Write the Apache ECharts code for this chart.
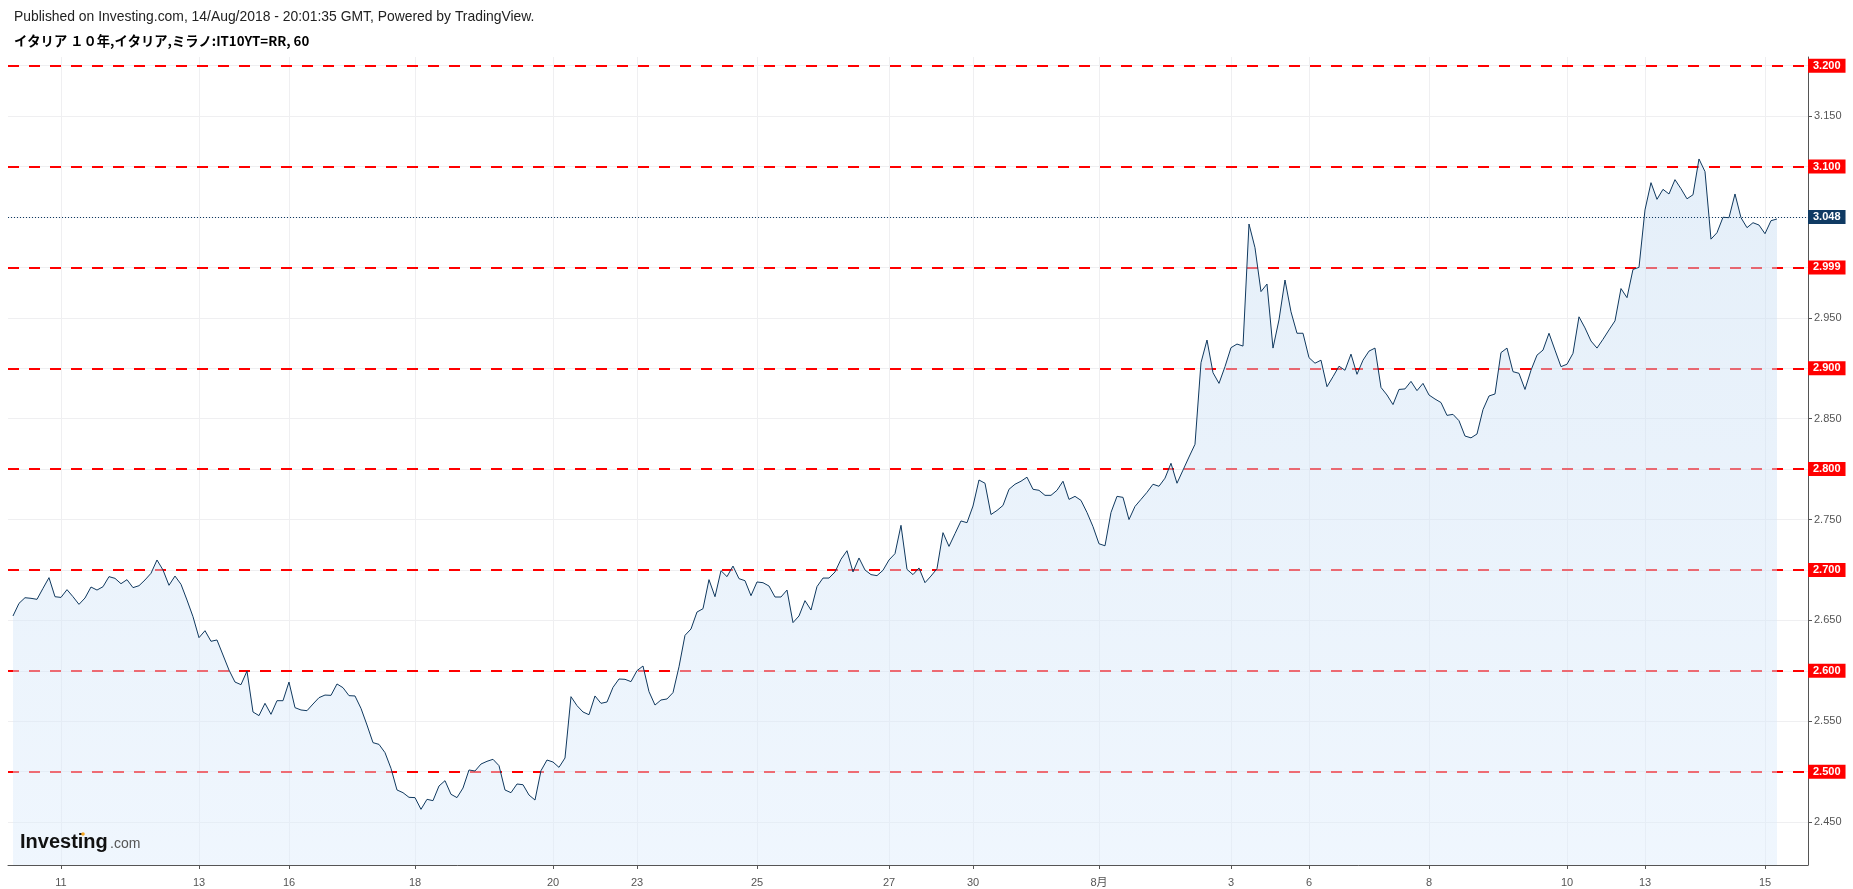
<!DOCTYPE html>
<html><head><meta charset="utf-8">
<script src="https://cdn.jsdelivr.net/npm/echarts@6/dist/echarts.min.js"></script>
<style>html,body{margin:0;padding:0;background:#fff}#c{width:1853px;height:889px}</style>
</head><body><div id="c"></div>
<script>
// Hourly yield values (IT10YT=RR, 60 min)
const values = [
2.6544,2.6669,2.6725,2.6719,2.6709,2.6818,2.6924,2.6735,2.6728,2.6805,
2.6735,2.6659,2.6722,2.6831,2.6801,2.6834,2.6934,2.6917,2.6864,2.6904,
2.6825,2.6844,2.6901,2.6967,2.7099,2.7000,2.6848,2.6940,2.6858,2.6702,
2.6537,2.6329,2.6398,2.6293,2.6306,2.6157,2.6008,2.5889,2.5863,2.5998,
2.5592,2.5556,2.5678,2.5569,2.5704,2.5704,2.5889,2.5635,2.5612,2.5605,
2.5671,2.5734,2.5760,2.5757,2.5870,2.5833,2.5754,2.5751,2.5628,2.5463,
2.5288,2.5271,2.5189,2.5033,2.4819,2.4792,2.4746,2.4743,2.4627,2.4726,
2.4713,2.4858,2.4911,2.4776,2.4743,2.4838,2.5017,2.5007,2.5076,2.5103,
2.5123,2.5060,2.4819,2.4792,2.4878,2.4871,2.4769,2.4719,2.5010,2.5116,
2.5096,2.5043,2.5136,2.5744,2.5655,2.5592,2.5565,2.5751,2.5678,2.5691,
2.5836,2.5919,2.5916,2.5893,2.6002,2.6048,2.5794,2.5661,2.5711,2.5721,
2.5784,2.6040,2.6352,2.6415,2.6583,2.6616,2.6904,2.6735,2.6993,2.6934,
2.7039,2.6914,2.6894,2.6745,2.6881,2.6874,2.6841,2.6732,2.6732,2.6801,
2.6478,2.6544,2.6696,2.6603,2.6835,2.6920,2.6920,2.6980,2.7106,2.7191,
2.6980,2.7119,2.7000,2.6954,2.6944,2.6997,2.7099,2.7162,2.7443,2.7006,
2.6954,2.7020,2.6874,2.6940,2.7013,2.7370,2.7234,2.7360,2.7486,2.7469,
2.7634,2.7892,2.786,2.755,2.759,2.764,2.780,2.785,2.788,2.792,
2.780,2.779,2.774,2.774,2.779,2.788,2.770,2.773,2.769,2.757,
2.743,2.726,2.724,2.757,2.773,2.772,2.750,2.763,2.770,2.777,
2.785,2.783,2.791,2.8058,2.786,2.799,2.812,2.8246,2.9055,2.928,
2.8956,2.885,2.9016,2.9204,2.924,2.922,3.043,3.0195,2.976,2.9835,
2.920,2.948,2.9875,2.956,2.9347,2.9347,2.9105,2.905,2.908,2.8817,
2.8916,2.902,2.898,2.914,2.894,2.908,2.917,2.920,2.881,2.8735,
2.864,2.879,2.8795,2.887,2.8778,2.885,2.8735,2.8695,2.866,2.8533,
2.8543,2.848,2.8328,2.831,2.8348,2.859,2.8725,2.8745,2.9155,2.920,
2.8966,2.895,2.879,2.898,2.913,2.918,2.9347,2.918,2.9016,2.904,
2.9148,2.951,2.940,2.927,2.920,2.9287,2.938,2.947,2.979,2.970,
2.998,3.000,3.057,3.084,3.0675,3.0774,3.0728,3.087,3.078,3.068,
3.072,3.1075,3.095,3.028,3.0344,3.0497,3.0493,3.0728,3.0493,3.0394,
3.0443,3.042,3.0334,3.0463,3.048
];
// x-axis ticks (bar index where each day label sits)
const tickIndex  = [8,31,46,67,90,104,124,146,160,181,203,216,236,259,272,292];
const tickLabels = ['11','13','16','18','20','23','25','27','30','8月','3','6','8','10','13','15'];
// y-axis plain tick labels
const yTickValues = [2.45,2.55,2.65,2.75,2.85,2.95,3.15];
// horizontal grid values
const gridValues = [2.45,2.5,2.55,2.6,2.65,2.7,2.75,2.8,2.85,2.9,2.95,3.0,3.05,3.1,3.15,3.2];
// red dashed level lines
const levelValues = [3.2,3.1,2.999,2.9,2.8,2.7,2.6,2.5];
const levelLabels = ['3.200','3.100','2.999','2.900','2.800','2.700','2.600','2.500'];
// last price
const lastValue = 3.048;
const lastLabel = '3.048';

const FONT = '"Liberation Sans", Arial, "Noto Sans CJK JP", sans-serif';
const seriesData = values.map((v, i) => [i, v]);

const chart = echarts.init(document.getElementById('c'), null, {renderer: 'canvas'});
const option = {
  animation: false,
  backgroundColor: '#ffffff',
  grid: {left: 8, right: 45, top: 57, bottom: 24, containLabel: false},
  xAxis: {
    type: 'value', min: -0.833, max: 299.167,
    splitLine: {show: false},
    axisLine: {show: true, onZero: false, lineStyle: {color: '#555', width: 1}},
    axisTick: {show: true, customValues: tickIndex, length: 4, lineStyle: {color: '#555'}},
    axisLabel: {
      customValues: tickIndex, color: '#555', fontSize: 11, margin: 12,
      fontFamily: '"Liberation Sans Narrow", "Liberation Sans", "Noto Sans CJK JP", sans-serif',
      formatter: function (v) {
        const k = tickIndex.findIndex(t => Math.abs(t - v) < 0.01);
        return k >= 0 ? tickLabels[k] : '';
      }
    }
  },
  yAxis: {
    type: 'value', position: 'right', min: 2.4075, max: 3.2086, scale: true,
    splitLine: {show: false},
    axisLine: {show: true, onZero: false, lineStyle: {color: '#555', width: 1}},
    axisTick: {show: true, customValues: yTickValues, length: 4, lineStyle: {color: '#555'}},
    axisLabel: {
      customValues: yTickValues, color: '#555', fontSize: 11, margin: 6, fontFamily: FONT,
      formatter: v => v.toFixed(3)
    }
  },
  graphic: [
    {type: 'text', x: 14, y: 17, silent: true, style: {
      text: 'Published on Investing.com, 14/Aug/2018 - 20:01:35 GMT, Powered by TradingView.',
      font: '13.9px "Liberation Sans", Arial, sans-serif', fill: '#222', verticalAlign: 'middle', align: 'left'}},
    {type: 'text', x: 14, y: 41, silent: true, style: {
      text: 'イタリア １０年,イタリア,ミラノ:IT10YT=RR, 60',
      font: 'bold 13.3px "Noto Sans CJK JP", "Liberation Sans", sans-serif', fill: '#000', verticalAlign: 'middle', align: 'left'}},
    {type: 'text', x: 20, y: 842, silent: true, z: 100, style: {
      text: 'Investing', font: 'bold 20px "Liberation Sans", Arial, sans-serif', fill: '#111',
      verticalAlign: 'middle', align: 'left'}},
    {type: 'text', x: 110, y: 844, silent: true, z: 100, style: {
      text: '.com', font: '14px "Liberation Sans", Arial, sans-serif', fill: '#555',
      verticalAlign: 'middle', align: 'left'}},
    {type: 'circle', silent: true, z: 101, shape: {cx: 83, cy: 834, r: 1.8}, style: {fill: '#f5a623'}}
  ],
  series: [
    {
      name: 'grid', type: 'line', data: [], z: 1, clip: false, silent: true,
      markLine: {
        z: 1, silent: true, symbol: ['none', 'none'], animation: false,
        lineStyle: {color: '#efeff1', width: 1, type: 'solid'},
        label: {show: false}, emphasis: {disabled: true},
        data: tickIndex.map(t => ({xAxis: t})).concat(gridValues.map(g => ({yAxis: g})))
      }
    },
    {
      name: 'levels', type: 'line', data: [], z: 2, clip: false, silent: true,
      markLine: {
        z: 2, silent: true, symbol: ['none', 'none'], animation: false,
        lineStyle: {color: '#ff0000', width: 2, type: [11, 10], opacity: 1},
        emphasis: {disabled: true},
        label: {show: true, position: 'end', distance: 0, color: '#fff', backgroundColor: '#ff0000',
          padding: [2, 5, 1, 5], fontSize: 11, fontWeight: 'bold', lineHeight: 11, fontFamily: FONT},
        data: levelValues.map((v, i) => ({yAxis: v, label: {formatter: levelLabels[i]}}))
      }
    },
    {
      name: 'IT10YT=RR', type: 'line', data: seriesData, z: 3, symbol: 'none', showSymbol: false,
      silent: true, emphasis: {disabled: true},
      lineStyle: {color: '#10395f', width: 1},
      areaStyle: {
        origin: 'start',
        color: new echarts.graphic.LinearGradient(0, 0, 0, 1, [
          {offset: 0, color: 'rgba(198,220,242,0.66)'},
          {offset: 1, color: 'rgba(221,236,252,0.66)'}
        ])
      }
    },
    {
      name: 'last', type: 'line', data: [], z: 4, clip: false, silent: true,
      markLine: {
        z: 6, silent: true, symbol: ['none', 'none'], animation: false,
        lineStyle: {color: '#0f3a63', width: 1, type: [1, 2]},
        emphasis: {disabled: true},
        label: {show: true, position: 'end', distance: 0, color: '#fff', backgroundColor: '#0f3a63',
          padding: [2, 5, 1, 5], fontSize: 11, fontWeight: 'bold', lineHeight: 11, fontFamily: FONT,
          formatter: lastLabel},
        data: [{yAxis: lastValue}]
      }
    }
  ]
};
chart.setOption(option);
</script>
</body></html>
